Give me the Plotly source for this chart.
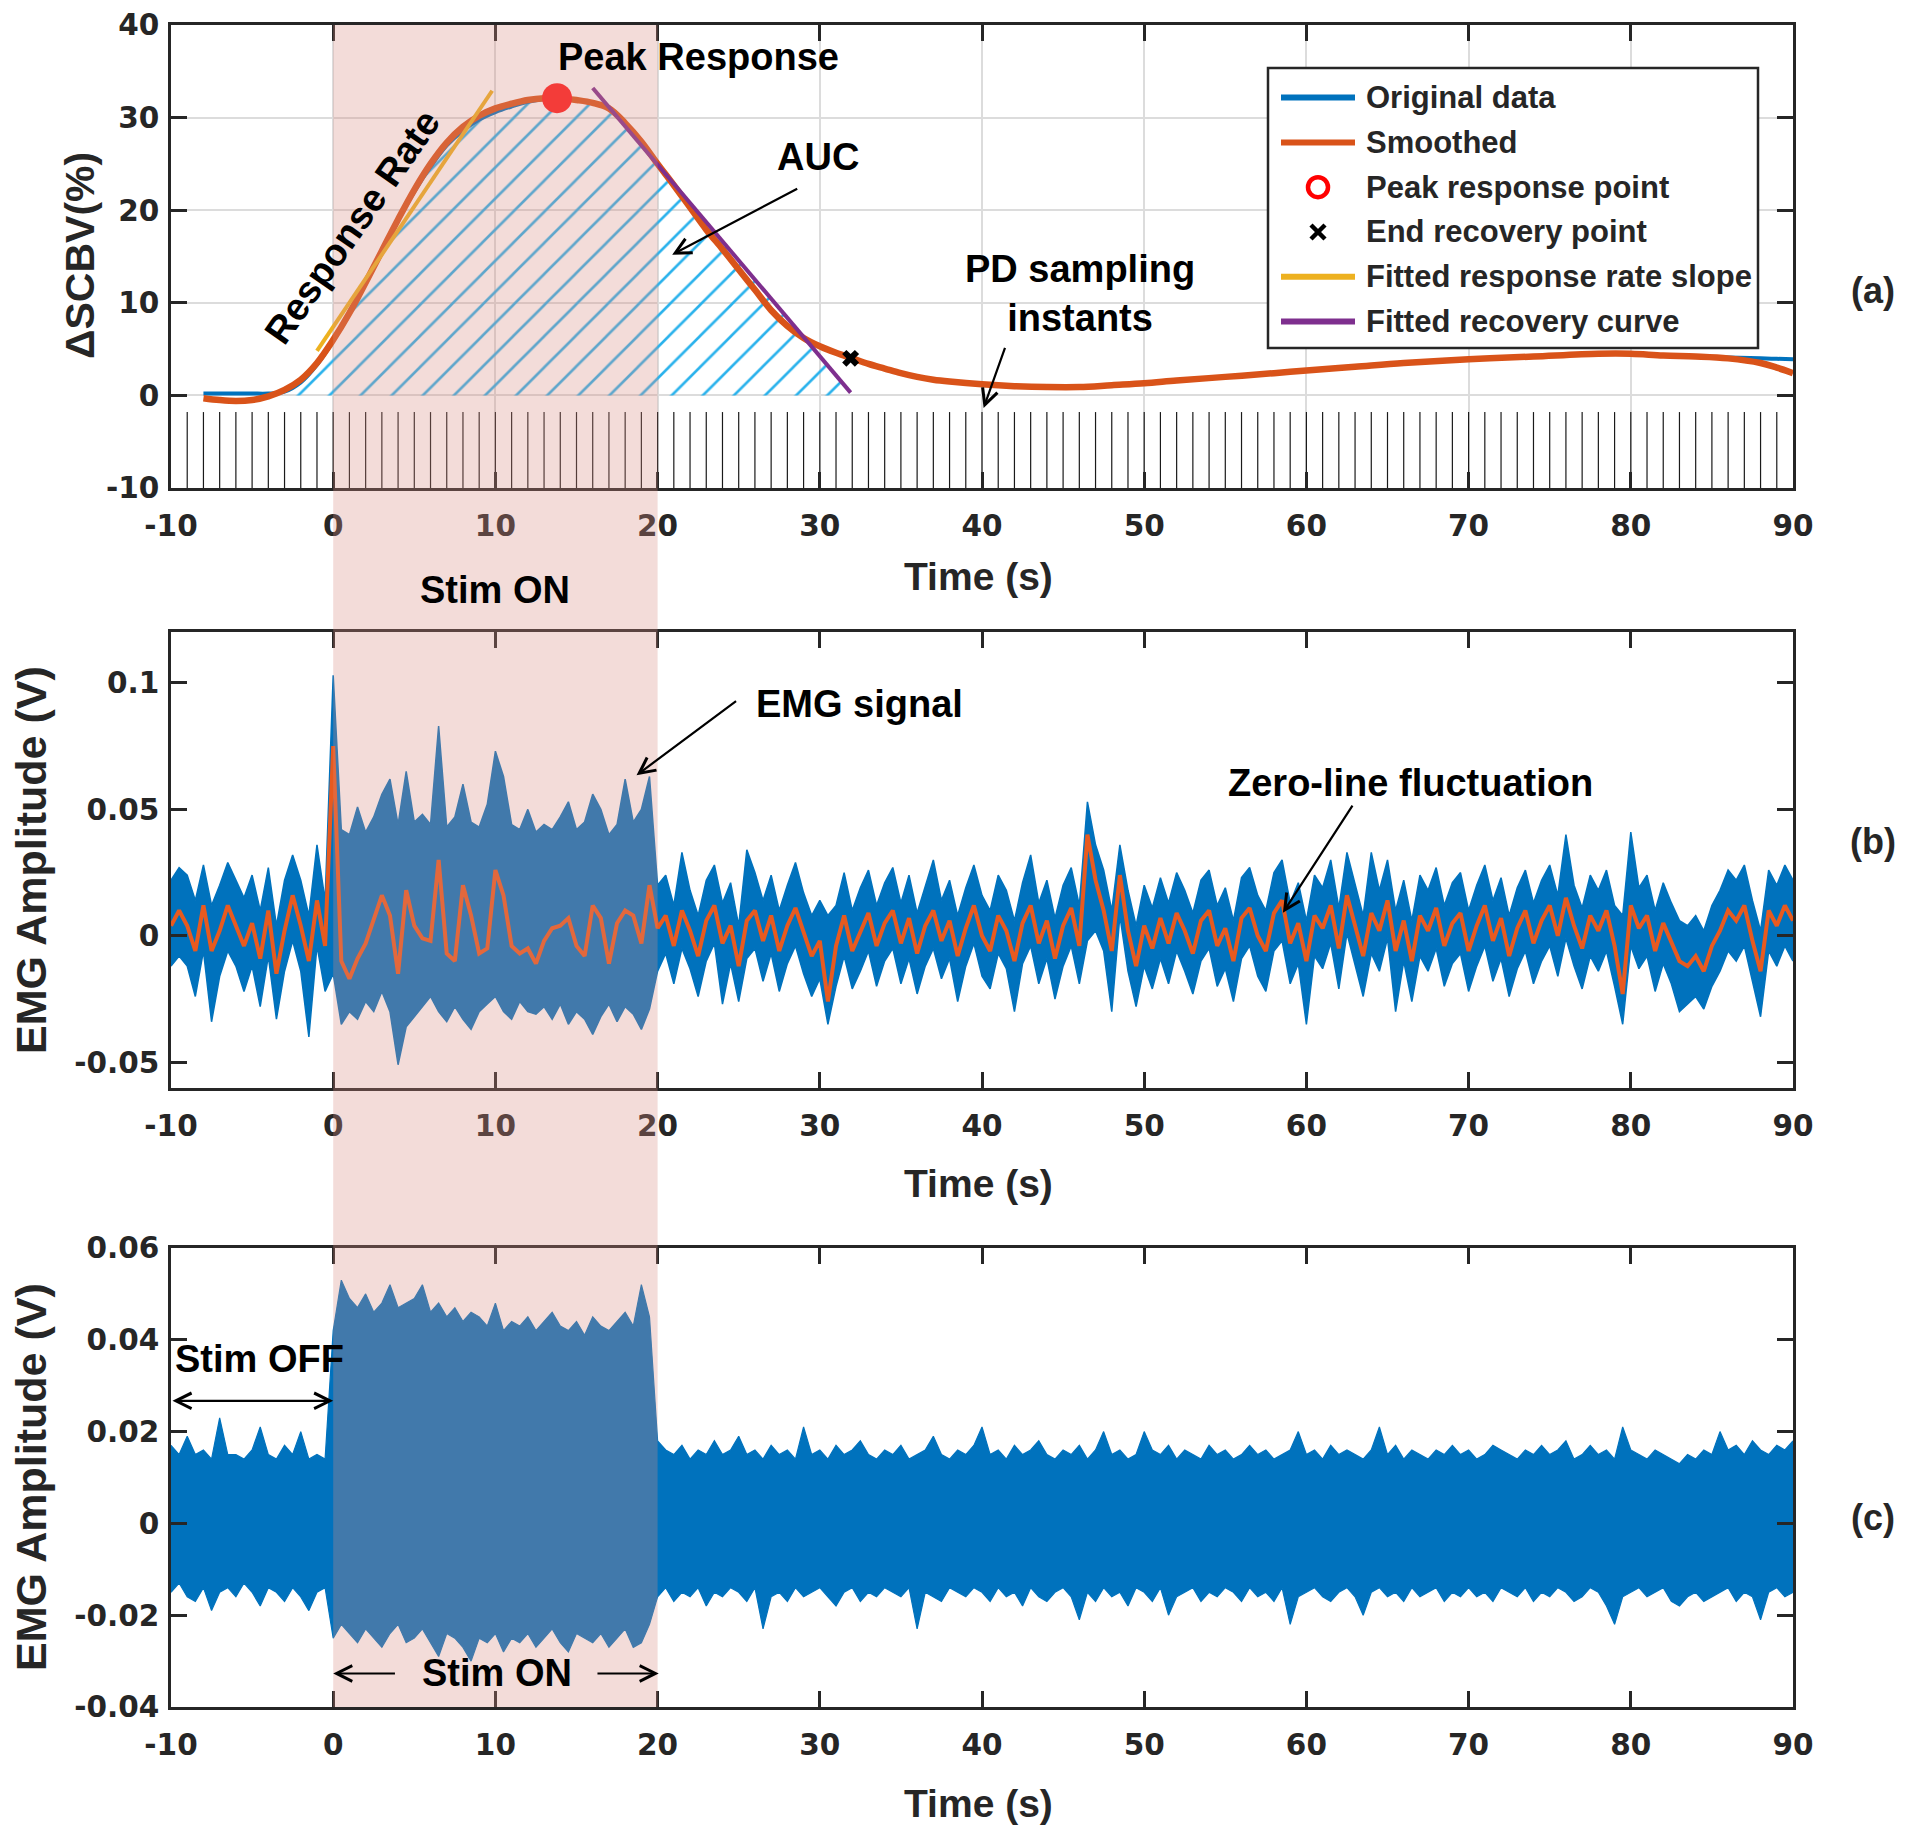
import plotly.graph_objects as go

# ---------------- (a) Delta SCBV ----------------
scbv_t = [-8, -7, -6, -5, -4, -3, -2, -1, 0, 1, 2, 3, 4, 5, 6, 7, 8, 9, 10, 11, 12, 13, 14, 15, 16, 17,
          18, 19, 20, 21, 22, 23, 24, 25, 26, 27, 28, 29, 30, 31, 32, 33, 34, 35, 36, 37, 38,
          40, 42, 44, 46, 48, 50, 52, 55, 58, 60, 63, 66, 70, 74, 78, 80, 82, 84, 86, 88, 89, 90]
scbv_smooth = [-0.3, -0.5, -0.6, -0.5, -0.1, 0.6, 1.7, 3.5, 6.0, 8.9, 12.2, 15.6, 19.0, 22.2, 25.0, 27.3,
               29.0, 30.2, 31.0, 31.5, 31.9, 32.1, 32.1, 31.9, 31.6, 31.0, 29.4, 27.4, 25.0, 22.7, 20.3,
               17.9, 15.8, 13.6, 11.4, 9.2, 7.5, 6.2, 5.3, 4.6, 4.0, 3.4, 2.9, 2.4, 2.0, 1.7, 1.5,
               1.2, 1.0, 0.9, 0.9, 1.1, 1.3, 1.6, 2.0, 2.4, 2.7, 3.1, 3.5, 3.9, 4.2, 4.5, 4.5, 4.3, 4.2,
               4.0, 3.5, 3.0, 2.4]
scbv_orig = [0.2, 0.2, 0.2, 0.2, 0.2, 0.4, 1.4, 3.3, 5.9, 8.8, 12.1, 15.5, 18.9, 22.0, 24.7, 27.0,
             28.6, 29.8, 30.6, 31.2, 31.7, 32.0, 32.1, 31.9, 31.6, 31.0, 29.4, 27.4, 25.0, 22.7, 20.3,
             17.9, 15.8, 13.6, 11.4, 9.2, 7.5, 6.2, 5.3, 4.6, 4.0, 3.4, 2.9, 2.4, 2.0, 1.7, 1.5,
             1.2, 1.0, 0.9, 0.9, 1.1, 1.3, 1.6, 2.0, 2.4, 2.7, 3.1, 3.5, 3.9, 4.2, 4.5, 4.5, 4.3, 4.2,
             4.1, 4.0, 3.95, 3.9]
rate_fit_t = [-1.0, 9.8]
rate_fit_v = [4.8, 32.9]
rec_fit_t = [16.0, 31.9]
rec_fit_v = [33.2, 0.3]
peak_t, peak_v = [13.8], [32.1]
end_t, end_v = [31.9], [4.0]
auc_start, auc_switch = -3, 20
pd_instants = [-9, -8, -7, -6, -5, -4, -3, -2, -1, 0, 1, 2, 3, 4, 5, 6, 7, 8, 9, 10, 11, 12, 13, 14,
               15, 16, 17, 18, 19, 20, 21, 22, 23, 24, 25, 26, 27, 28, 29, 30, 31, 32, 33, 34, 35, 36,
               37, 38, 39, 40, 41, 42, 43, 44, 45, 46, 47, 48, 49, 50, 51, 52, 53, 54, 55, 56, 57, 58,
               59, 60, 61, 62, 63, 64, 65, 66, 67, 68, 69, 70, 71, 72, 73, 74, 75, 76, 77, 78, 79, 80,
               81, 82, 83, 84, 85, 86, 87, 88, 89]
pd_top, pd_bottom = -1.8, -10

# ---------------- EMG, sampled every 0.5 s from -10 s, values in mV ----------------
EMG_T0, EMG_DT = -10.0, 0.5

emg_b_smooth = (
    [4, 10, 4, -6, 12, -6, 2, 12, 4, -4, 5, -9, 10, -15, 2, 16, 4, -10, 14, -4] +
    [75, -10, -17, -9, -3, 6, 16, 8, -15, 18, 4, -1, -2, 30, -7, -10, 20, 8, -7, -5,
     26, 16, -4, -7, -5, -11, -2, 3, 4, 7, -4, -8, 12, 7, -11, 5, 10, 8, -3, 20] +
    [3, 8, -4, 10, 2, -8, 6, 12, -3, 4,
     -12, 6, 10, -2, 8, -6, 4, 11, 1, -8,
     -2, -26, -4, 8, -6, 2, 9, -4, 5, 10,
     -3, 7, -7, 4, 10, -2, 6, -8, 3, 12,
     0, -6, 8, 2, -10, 5, 12, -3, 6, -9,
     4, 11, -4, 40, 22, 10, -6, 24, 2, -12,
     4, -5, 7, -3, 9, 2, -7, 6, 10, -4,
     3, -10, 7, 11, 0, -6, 9, 14, -3, 5,
     -10, 8, 3, 12, -5, 16, 4, -8, 9, 2,
     14, -6, 6, -10, 8, 2, 11, -4, 5, 9,
     -6, 4, 12, -2, 7, -8, 3, 10, -3, 6,
     12, 0, 15, 4, -5, 8, 2, 10, -4, -23,
     12, 3, 8, -6, 5, -3, -10, -12, -8, -14,
     -4, 2, 10, 6, 12, -2, -14, 10, 4, 12,
     6])
emg_b_hi = (
    [22, 27, 24, 14, 28, 12, 20, 29, 22, 15, 24, 10, 27, 4, 22, 32, 22, 8, 36, 14] +
    [103, 42, 40, 51, 41, 47, 56, 62, 44, 65, 45, 48, 44, 83, 43, 47, 60, 45, 43, 52,
     73, 63, 44, 42, 50, 41, 44, 42, 47, 53, 42, 45, 56, 50, 40, 44, 62, 45, 50, 63] +
    [20, 24, 12, 33, 18, 8, 22, 28, 13, 21,
     4, 34, 25, 14, 24, 10, 20, 29, 17, 8,
     14, 8, 12, 25, 10, 19, 26, 12, 21, 27,
     13, 24, 9, 20, 30, 14, 22, 8, 19, 28,
     16, 10, 24, 18, 6, 21, 32, 13, 22, 7,
     20, 27, 12, 53, 36, 26, 10, 36, 18, 4,
     20, 11, 23, 13, 25, 18, 9, 22, 26, 12,
     19, 6, 23, 27, 16, 10, 25, 30, 13, 21,
     6, 24, 19, 30, 11, 33, 20, 8, 33, 18,
     30, 10, 22, 6, 24, 18, 27, 12, 21, 25,
     10, 20, 28, 14, 23, 8, 19, 26, 13, 22,
     28, 16, 40, 20, 11, 24, 18, 26, 12, 8,
     41, 19, 24, 10, 21, 13, 6, 4, 8, 2,
     12, 18, 26, 22, 28, 14, 2, 26, 20, 28,
     22])
emg_b_lo = (
    [-12, -8, -12, -24, -6, -34, -16, -6, -12, -22, -12, -28, -8, -33, -14, -2, -14, -40, -4, -22] +
    [-15, -35, -30, -33, -26, -30, -22, -30, -51, -36, -32, -28, -24, -30, -34, -28, -33, -37, -30, -27,
     -24, -30, -33, -26, -30, -31, -28, -33, -27, -35, -30, -33, -39, -32, -27, -34, -28, -31, -37, -29] +
    [-14, -7, -19, -5, -13, -24, -10, -3, -27, -11,
     -26, -9, -5, -18, -7, -22, -11, -4, -15, -24,
     -17, -35, -20, -8, -21, -14, -6, -20, -10, -5,
     -19, -9, -23, -12, -5, -17, -9, -26, -12, -3,
     -16, -21, -7, -13, -30, -11, -4, -19, -9, -25,
     -12, -4, -19, -2, 2, -6, -30, 8, -14, -28,
     -12, -21, -9, -19, -6, -14, -23, -10, -5, -20,
     -13, -26, -9, -4, -16, -22, -6, -2, -19, -11,
     -35, -8, -13, -3, -21, 1, -12, -24, -7, -14,
     -1, -30, -10, -26, -8, -14, -5, -20, -11, -7,
     -22, -12, -4, -18, -9, -24, -13, -6, -19, -10,
     -4, -16, -1, -12, -21, -8, -14, -6, -20, -35,
     -4, -13, -8, -22, -11, -19, -30, -27, -24, -29,
     -20, -14, -6, -10, -4, -18, -32, -6, -12, -4,
     -10])

emg_c_hi = (
    [17, 15, 19, 15, 16, 14, 23, 15, 15, 14, 16, 21, 15, 14, 17, 15, 20, 14, 15, 14] +
    [42, 53, 49, 47, 50, 46, 48, 52, 47, 48, 49, 52, 46, 48, 45, 47, 44, 46, 45, 43,
     48, 42, 44, 43, 45, 42, 44, 46, 43, 42, 44, 41, 45, 43, 42, 44, 46, 43, 52, 45] +
    [18, 16, 15, 17, 14, 16, 15, 18, 15, 16,
     19, 15, 16, 14, 17, 15, 16, 14, 21, 15,
     16, 14, 17, 15, 16, 18, 15, 14, 16, 15,
     17, 14, 15, 16, 19, 15, 14, 16, 15, 17,
     21, 15, 16, 14, 17, 15, 16, 18, 15, 14,
     16, 15, 17, 14, 16, 20, 15, 16, 14, 15,
     20, 16, 15, 17, 14, 16, 15, 14, 17, 15,
     16, 14, 15, 17, 15, 16, 14, 15, 16, 20,
     15, 16, 14, 17, 15, 16, 15, 14, 16, 21,
     15, 17, 14, 16, 15, 14, 16, 15, 17, 15,
     16, 14, 15, 17, 16, 15, 14, 16, 15, 17,
     15, 16, 18, 14, 15, 17, 15, 16, 14, 21,
     16, 15, 14, 16, 15, 14, 13, 15, 14, 16,
     15, 20, 16, 17, 15, 18, 16, 15, 17, 16,
     18])
emg_c_lo = (
    [-15, -13, -16, -17, -14, -19, -15, -14, -16, -13, -15, -18, -14, -15, -17, -14, -16, -19, -15, -14] +
    [-25, -22, -24, -26, -23, -25, -27, -24, -22, -26, -25, -23, -26, -29, -24, -25, -27, -30, -25, -26,
     -24, -28, -25, -26, -24, -27, -25, -23, -26, -28, -24, -25, -26, -24, -27, -25, -23, -27, -26, -22] +
    [-16, -14, -17, -15, -16, -14, -18, -15, -16, -14,
     -15, -17, -14, -23, -16, -15, -17, -14, -16, -15,
     -14, -16, -18, -15, -14, -17, -15, -16, -14, -15,
     -16, -14, -23, -15, -16, -17, -14, -15, -16, -14,
     -15, -17, -14, -16, -15, -18, -14, -16, -17, -15,
     -14, -16, -21, -15, -17, -14, -16, -15, -18, -14,
     -15, -17, -14, -20, -16, -15, -14, -17, -15, -16,
     -14, -15, -17, -14, -16, -15, -17, -14, -22, -16,
     -15, -14, -16, -17, -15, -14, -16, -20, -15, -14,
     -16, -15, -17, -14, -16, -15, -14, -17, -15, -16,
     -14, -16, -15, -17, -14, -15, -16, -14, -17, -15,
     -16, -14, -15, -17, -16, -14, -15, -18, -22, -16,
     -15, -14, -16, -15, -14, -17, -18, -16, -15, -17,
     -16, -15, -14, -17, -15, -16, -21, -15, -14, -16,
     -15])

stim_on = [0, 20]
x_ticks = [-10, 0, 10, 20, 30, 40, 50, 60, 70, 80, 90]
x_labels = ["-10", "0", "10", "20", "30", "40", "50", "60", "70", "80", "90"]
ya_ticks = [-10, 0, 10, 20, 30, 40]
ya_labels = ["-10", "0", "10", "20", "30", "40"]
yb_ticks = [-0.05, 0, 0.05, 0.1]
yb_labels = ["-0.05", "0", "0.05", "0.1"]
yc_ticks = [-0.04, -0.02, 0, 0.02, 0.04, 0.06]
yc_labels = ["-0.04", "-0.02", "0", "0.02", "0.04", "0.06"]

# ---------------- styling ----------------
FONT = "Liberation Sans, Arial, sans-serif"
TICK_FONT = "DejaVu Sans, Verdana, sans-serif"
AX = "#262626"
BLUE = "#0072BD"
ORANGE = "#D95319"
ORANGE_B = "#E85A1F"
YELLOW = "#EDB120"
PURPLE = "#7E2F8E"
RED = "#FF1A1A"

# plot-area geometry (page pixels; the page body adds an 8 px offset)
PL, PT, PW, PH = 171, 25, 1622, 1682


def px(x):
    return (x - PL) / PW


def py(y):
    return (PT + PH - y) / PH


def mv(vals):
    return [v / 1000.0 for v in vals]


def emg_times(n):
    return [EMG_T0 + EMG_DT * i for i in range(n)]


fig = go.Figure()

# AUC hatch: smoothed curve up to auc_switch, then along recovery fit to its end
auc_x = [t for t in scbv_t if auc_start <= t <= auc_switch] + [rec_fit_t[-1]]
auc_y = [v for t, v in zip(scbv_t, scbv_smooth) if auc_start <= t <= auc_switch] + [rec_fit_v[-1]]
fig.add_trace(go.Scatter(x=auc_x, y=auc_y, mode="lines", line=dict(width=0), fill="tozeroy",
                         fillcolor="rgba(0,0,0,0)",
                         fillpattern=dict(shape="/", fgcolor="#2AB2EC", bgcolor="rgba(0,0,0,0)",
                                          size=22, solidity=0.12),
                         showlegend=False, hoverinfo="skip", xaxis="x", yaxis="y"))

# PD sampling instants
pd_x, pd_y = [], []
for t in pd_instants:
    pd_x += [t, t, None]
    pd_y += [pd_bottom, pd_top, None]
fig.add_trace(go.Scatter(x=pd_x, y=pd_y, mode="lines", line=dict(color="#1a1a1a", width=1.2),
                         showlegend=False, hoverinfo="skip", xaxis="x", yaxis="y"))

fig.add_trace(go.Scatter(x=scbv_t, y=scbv_orig, mode="lines", name="Original data",
                         line=dict(color=BLUE, width=4, shape="spline"), xaxis="x", yaxis="y"))
fig.add_trace(go.Scatter(x=scbv_t, y=scbv_smooth, mode="lines", name="Smoothed",
                         line=dict(color=ORANGE, width=6.5, shape="spline"), xaxis="x", yaxis="y"))
fig.add_trace(go.Scatter(x=end_t, y=end_v, mode="markers", name="End recovery point",
                         marker=dict(symbol="x", color="black", size=15, line=dict(width=0)),
                         xaxis="x", yaxis="y"))
fig.add_trace(go.Scatter(x=rate_fit_t, y=rate_fit_v, mode="lines", name="Fitted response rate slope",
                         line=dict(color=YELLOW, width=4), xaxis="x", yaxis="y"))
fig.add_trace(go.Scatter(x=rec_fit_t, y=rec_fit_v, mode="lines", name="Fitted recovery curve",
                         line=dict(color=PURPLE, width=4), xaxis="x", yaxis="y"))
fig.add_trace(go.Scatter(x=peak_t, y=peak_v, mode="markers", name="Peak response point",
                         marker=dict(symbol="circle", color=RED, size=30), xaxis="x", yaxis="y"))

# (b) EMG with smoothed zero-line
n_b = min(len(emg_b_hi), len(emg_b_lo), len(emg_b_smooth))
tb = emg_times(n_b)
fig.add_trace(go.Scatter(x=tb, y=mv(emg_b_lo[:n_b]), mode="lines", line=dict(color=BLUE, width=1.5),
                         showlegend=False, hoverinfo="skip", xaxis="x2", yaxis="y2"))
fig.add_trace(go.Scatter(x=tb, y=mv(emg_b_hi[:n_b]), mode="lines", line=dict(color=BLUE, width=1.5),
                         fill="tonexty", fillcolor=BLUE, showlegend=False, hoverinfo="skip",
                         xaxis="x2", yaxis="y2"))
fig.add_trace(go.Scatter(x=tb, y=mv(emg_b_smooth[:n_b]), mode="lines",
                         line=dict(color=ORANGE_B, width=4), showlegend=False, hoverinfo="skip",
                         xaxis="x2", yaxis="y2"))

# (c) raw EMG
n_c = min(len(emg_c_hi), len(emg_c_lo))
tc = emg_times(n_c)
fig.add_trace(go.Scatter(x=tc, y=mv(emg_c_lo[:n_c]), mode="lines", line=dict(color=BLUE, width=1.2),
                         showlegend=False, hoverinfo="skip", xaxis="x3", yaxis="y3"))
fig.add_trace(go.Scatter(x=tc, y=mv(emg_c_hi[:n_c]), mode="lines", line=dict(color=BLUE, width=1.2),
                         fill="tonexty", fillcolor=BLUE, showlegend=False, hoverinfo="skip",
                         xaxis="x3", yaxis="y3"))

tick_font = dict(family=TICK_FONT, size=29.5, color=AX, weight="bold")


def xaxis_style(anchor, grid):
    return dict(anchor=anchor, range=[-10, 90], tickvals=x_ticks, ticktext=x_labels, ticks="inside",
                ticklen=16, tickwidth=2.5, tickcolor=AX, showline=True, linecolor=AX, linewidth=2.5,
                mirror="ticks", tickfont=tick_font, ticklabelstandoff=10, zeroline=False,
                ticklabeloverflow="allow", automargin=False,
                showgrid=grid, gridcolor="#DCDCDC", gridwidth=1.5)


def yaxis_style(anchor, domain, rng, tv, tt, grid):
    return dict(anchor=anchor, domain=domain, range=rng, tickvals=tv, ticktext=tt, ticks="inside",
                ticklen=16, tickwidth=2.5, tickcolor=AX, showline=True, linecolor=AX, linewidth=2.5,
                mirror="ticks", tickfont=tick_font, ticklabelstandoff=3, zeroline=False,
                ticklabeloverflow="allow", automargin=False,
                showgrid=grid, gridcolor="#DCDCDC", gridwidth=1.5)


ann_font = dict(family=FONT, size=38, color="black", weight="bold")
title_font = dict(family=FONT, size=39, color=AX, weight="bold")
ytitle_font = dict(family=FONT, size=43, color=AX, weight="bold")
ytitle_font_a = dict(family=FONT, size=41, color=AX, weight="bold")
panel_font = dict(family=FONT, size=36, color=AX, weight="bold")
legend_font = dict(family=FONT, size=31, color=AX, weight="bold")


def txt(x, y, text, xref="paper", yref="paper", font=ann_font, angle=0, xanchor="center"):
    return dict(x=x, y=y, xref=xref, yref=yref, text=text, showarrow=False, font=font,
                textangle=angle, xanchor=xanchor, yanchor="middle")


def arrow(x, y, ax, ay, xref, yref, side="end"):
    return dict(x=x, y=y, ax=ax, ay=ay, xref=xref, yref=yref, axref=xref, ayref=yref, text="",
                showarrow=True, arrowhead=5, startarrowhead=5, arrowside=side, arrowsize=1.4,
                startarrowsize=1.4, arrowwidth=2.2, arrowcolor="black", standoff=0, startstandoff=0)


annotations = [
    # axis titles
    txt(px(80), py(256), "ΔSCBV(%)", font=ytitle_font_a, angle=-90),
    txt(px(31), py(860), "EMG Amplitude (V)", font=ytitle_font, angle=-90),
    txt(px(31), py(1477), "EMG Amplitude (V)", font=ytitle_font, angle=-90),
    txt(px(978), py(576), "Time (s)", font=title_font),
    txt(px(978), py(1183), "Time (s)", font=title_font),
    txt(px(978), py(1803), "Time (s)", font=title_font),
    # panel labels
    txt(px(1873), py(291), "(a)", font=panel_font),
    txt(px(1873), py(841), "(b)", font=panel_font),
    txt(px(1873), py(1517), "(c)", font=panel_font),
    # Stim ON between (a) and (b)
    txt(10, py(590), "Stim ON", xref="x"),
    # (a)
    txt(22.55, 36.5, "Peak Response", "x", "y"),
    txt(1.16, 18.2, "Response Rate", "x", "y", angle=-55),
    txt(29.86, 25.7, "AUC", "x", "y"),
    txt(46.04, 11.0, "PD sampling<br>instants", "x", "y"),
    arrow(20.9, 15.2, 28.7, 22.4, "x", "y"),
    arrow(40.1, -1.36, 41.45, 5.3, "x", "y"),
    # (b)
    txt(32.45, 0.0918, "EMG signal", "x2", "y2"),
    txt(66.44, 0.0604, "Zero-line fluctuation", "x2", "y2"),
    arrow(18.7, 0.0635, 24.93, 0.0933, "x2", "y2"),
    arrow(58.55, 0.0091, 62.9, 0.0521, "x2", "y2"),
    # (c)
    txt(-9.9, 0.0358, "Stim OFF", "x3", "y3", xanchor="left"),
    arrow(0, 0.0267, -10, 0.0267, "x3", "y3", side="end+start"),
    txt(10.07, -0.0327, "Stim ON", "x3", "y3"),
    arrow(0, -0.0327, 3.9, -0.0327, "x3", "y3"),
    arrow(20.07, -0.0327, 16.2, -0.0327, "x3", "y3"),
]

shapes = [dict(type="rect", xref="x", yref="paper", x0=stim_on[0], x1=stim_on[1], y0=0, y1=1,
               fillcolor="rgba(215,140,130,0.3)", line=dict(width=0), layer="above")]

# legend box for panel (a)
legend_entries = [
    ("Original data", "line", BLUE),
    ("Smoothed", "line", ORANGE),
    ("Peak response point", "ring", "#FF0000"),
    ("End recovery point", "cross", "black"),
    ("Fitted response rate slope", "line", YELLOW),
    ("Fitted recovery curve", "line", PURPLE),
]
LG_X0, LG_X1, LG_Y0, LG_Y1 = 1268, 1758, 68, 348
LG_ROW0, LG_ROWH = 97.6, 44.8
LG_SYM0, LG_SYM1, LG_TXT = 1281, 1355, 1364
shapes.append(dict(type="rect", xref="paper", yref="paper", x0=px(LG_X0), x1=px(LG_X1),
                   y0=py(LG_Y1), y1=py(LG_Y0), fillcolor="white",
                   line=dict(color=AX, width=2.5), layer="above"))
for i, (label, kind, color) in enumerate(legend_entries):
    yy = LG_ROW0 + LG_ROWH * i
    xc = (LG_SYM0 + LG_SYM1) / 2
    if kind == "line":
        shapes.append(dict(type="line", xref="paper", yref="paper", x0=px(LG_SYM0), x1=px(LG_SYM1),
                           y0=py(yy), y1=py(yy), line=dict(color=color, width=6), layer="above"))
    elif kind == "ring":
        r = 10
        shapes.append(dict(type="circle", xref="paper", yref="paper", x0=px(xc - r), x1=px(xc + r),
                           y0=py(yy + r), y1=py(yy - r), line=dict(color=color, width=4.5),
                           fillcolor="rgba(0,0,0,0)", layer="above"))
    else:
        d = 7
        for s in (1, -1):
            shapes.append(dict(type="line", xref="paper", yref="paper", x0=px(xc - d), x1=px(xc + d),
                               y0=py(yy - s * d), y1=py(yy + s * d),
                               line=dict(color=color, width=4.5), layer="above"))
    annotations.append(txt(px(LG_TXT), py(yy), label, font=legend_font, xanchor="left"))

fig.update_layout(
    template="none",
    width=1920, height=1832,
    margin=dict(l=PL - 8, r=1920 - (PL - 8) - PW, t=PT - 8, b=1832 - (PT - 8) - PH, autoexpand=False),
    paper_bgcolor="white", plot_bgcolor="white",
    font=dict(family=FONT, color=AX),
    xaxis=xaxis_style("y", True),
    xaxis2=xaxis_style("y2", False),
    xaxis3=xaxis_style("y3", False),
    yaxis=yaxis_style("x", [py(488), 1.0], [-10, 40], ya_ticks, ya_labels, True),
    yaxis2=yaxis_style("x2", [py(1087.5), py(632.4)], [-0.06, 0.12], yb_ticks, yb_labels, False),
    yaxis3=yaxis_style("x3", [0.0, py(1248)], [-0.04, 0.06], yc_ticks, yc_labels, False),
    annotations=annotations,
    shapes=shapes,
    showlegend=False,
)

fig.write_html("out.html")
